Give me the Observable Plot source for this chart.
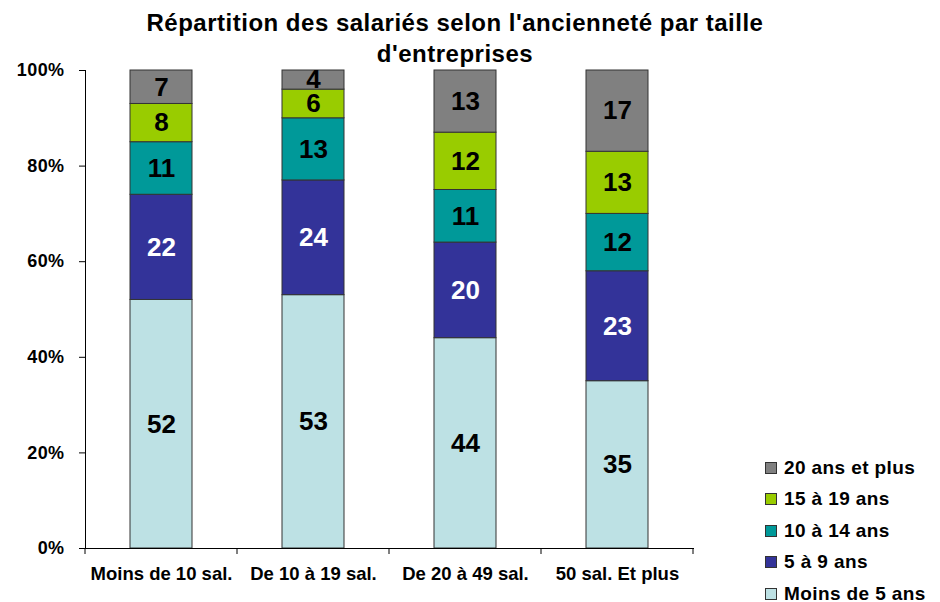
<!DOCTYPE html>
<html>
<head>
<meta charset="utf-8">
<script src="https://cdn.jsdelivr.net/npm/d3@7"></script>
<script src="https://cdn.jsdelivr.net/npm/@observablehq/plot@0.6"></script>
<style>
  html, body { margin: 0; padding: 0; background: #fff; }
  body { width: 940px; height: 602px; position: relative; overflow: hidden; font-family: "Liberation Sans", Arial, sans-serif; }
  #title { position: absolute; left: 0; width: 910px; top: 7px; text-align: center; font-weight: bold; font-size: 24px; letter-spacing: 0.5px; line-height: 31px; color: #000; }
  #chart { position: absolute; left: 0; top: 0; }
  #legend { position: absolute; left: 765px; top: 452px; }
  .item { display: flex; align-items: center; height: 31.5px; font-weight: bold; font-size: 19px; letter-spacing: 0.4px; color: #000; }
  .sw { width: 10px; height: 10px; border: 1px solid #333; margin-right: 7px; }
</style>
</head>
<body>
<div id="chart"></div>
<div id="title">Répartition des salariés selon l'ancienneté par taille<br>d'entreprises</div>
<div id="legend"></div>
<script>
const categories = ["Moins de 10 sal.", "De 10 à 19 sal.", "De 20 à 49 sal.", "50 sal. Et plus"];
const series = ["Moins de 5 ans", "5 à 9 ans", "10 à 14 ans", "15 à 19 ans", "20 ans et plus"];
const moins5 = [52, 53, 44, 35];
const de5a9 = [22, 24, 20, 23];
const de10a14 = [11, 13, 11, 12];
const de15a19 = [8, 6, 12, 13];
const plus20 = [7, 4, 13, 17];
const yTicks = [0, 20, 40, 60, 80, 100];
const colors = ["#BDE1E4", "#333399", "#009999", "#99CC00", "#808080"];

const valuesBySeries = [moins5, de5a9, de10a14, de15a19, plus20];
const data = [];
series.forEach((s, i) => categories.forEach((c, j) => data.push({cat: c, serie: s, value: valuesBySeries[i][j]})));

const font = {fontFamily: "Liberation Sans, Arial, sans-serif", fontWeight: "bold"};
const isWhite = d => d.serie === "5 à 9 ans";

const chart = Plot.plot({
  width: 940,
  height: 602,
  marginLeft: 85,
  marginRight: 246,
  marginTop: 70,
  marginBottom: 54,
  style: {fontFamily: "Liberation Sans, Arial, sans-serif", background: "white"},
  x: {domain: categories, paddingInner: 0.59, paddingOuter: 0.295, label: null},
  y: {domain: [0, 100], label: null},
  color: {domain: series, range: colors},
  marks: [
    Plot.barY(data, Plot.stackY({x: "cat", y: "value", z: "serie", fill: "serie", stroke: "#333", strokeWidth: 1})),
    Plot.text(data, Plot.stackY({x: "cat", y: "value", z: "serie", text: d => isWhite(d) ? "" : String(d.value), fill: "black", fontSize: 26, ...font})),
    Plot.text(data, Plot.stackY({x: "cat", y: "value", z: "serie", text: d => isWhite(d) ? String(d.value) : "", fill: "white", fontSize: 26, ...font})),
    Plot.axisY({ticks: yTicks, tickFormat: d => d + "%", tickSize: 6, tickPadding: 15, fontSize: 18, ...font, stroke: "#000", color: "#000"}),
    Plot.axisX({tickSize: 0, tickPadding: 18, fontSize: 18.5, ...font, color: "#000"}),
    Plot.frame({anchor: "left", stroke: "#000"}),
    Plot.ruleY([0], {stroke: "#000"})
  ]
});

// category boundary ticks on the x axis, from the x band scale
const xs = chart.scale("x");
const ys = chart.scale("y");
const x0 = xs.apply(categories[0]), x1 = xs.apply(categories[1]);
const step = x1 - x0;
const bw = xs.bandwidth;
const half = (step - bw) / 2;
const bounds = categories.map(c => xs.apply(c) - half);
bounds.push(xs.apply(categories[categories.length - 1]) + bw + half);
const yb = ys.apply(0);
const svg = d3.select(chart.tagName === "svg" ? chart : chart.querySelector("svg"));
svg.selectAll("[aria-label='y-axis tick label'] text").attr("letter-spacing", "0.4px");
svg.append("g").selectAll("line").data(bounds).join("line")
  .attr("x1", d => d).attr("x2", d => d)
  .attr("y1", yb).attr("y2", yb + 6)
  .attr("stroke", "#000");

document.getElementById("chart").appendChild(chart);

// legend (top entry = top of stack)
const legend = d3.select("#legend");
series.slice().reverse().forEach(s => {
  const it = legend.append("div").attr("class", "item");
  it.append("div").attr("class", "sw").style("background", colors[series.indexOf(s)]);
  it.append("span").text(s);
});
</script>
</body>
</html>
